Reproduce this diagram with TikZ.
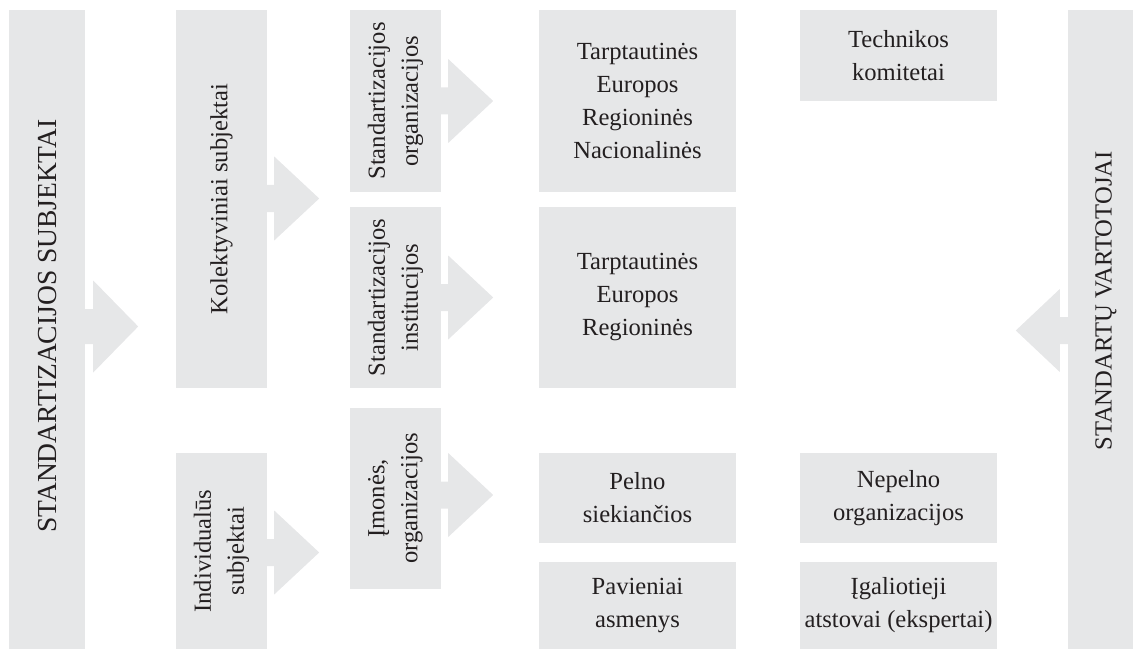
\documentclass[tikz,border=0pt]{standalone}
\usepackage{fontspec}
\setmainfont{Liberation Serif}
\definecolor{boxgray}{HTML}{E6E7E8}
\definecolor{ink}{HTML}{231F20}
\tikzset{
  box/.style={fill=boxgray, inner sep=0pt, align=center, text=ink,
    font=\fontsize{24.6}{33}\selectfont},
  vbox/.style={box, rotate=90},
  blockarrow/.style={fill=boxgray},
  vtext/.style={inner sep=0pt, text=ink, rotate=90, font=\fontsize{24.6}{33}\selectfont},
}
\begin{document}
\begin{tikzpicture}[x=1pt, y=-1pt]
\useasboundingbox (0,0) rectangle (1133,650);
% big side boxes
\node[vbox, minimum width=639pt, minimum height=76pt] (L) at (47,329.5) {};
\node[vtext, font=\fontsize{27.5}{33}\selectfont] (Ltext) at (48,326) {STANDARTIZACIJOS SUBJEKTAI};
\node[vbox, minimum width=639pt, minimum height=76pt] (R) at (1106,329.5) {};
\node[vtext] (Rtext) at (1106,301) {STANDARTŲ VARTOTOJAI};
% column 1
\node[vbox, minimum width=378pt, minimum height=91pt] (kol) at (221.5,199) {Kolektyviniai subjektai};
\node[vbox, minimum width=196pt, minimum height=91pt] (ind) at (221.5,551) {Individualūs\\subjektai};
% column 2
\node[vbox, minimum width=182pt, minimum height=91pt] (so) at (395.5,101) {Standartizacijos\\organizacijos};
\node[vbox, minimum width=181pt, minimum height=91pt] (si) at (395.5,297.5) {Standartizacijos\\institucijos};
\node[vbox, minimum width=181pt, minimum height=91pt] (im) at (395.5,498.5) {Įmonės,\\organizacijos};
% column 3
\node[box, minimum width=197pt, minimum height=182pt] (A) at (637.5,101) {Tarptautinės\\Europos\\Regioninės\\Nacionalinės};
\node[box, minimum width=197pt, minimum height=181pt] (B) at (637.5,297.5) {Tarptautinės\\Europos\\Regioninės};
\node[box, minimum width=197pt, minimum height=90pt] (C) at (637.5,498) {Pelno\\siekiančios};
\node[box, minimum width=197pt, minimum height=87pt] (D) at (637.5,605.5) {Pavieniai\\asmenys};
% column 4
\node[box, minimum width=197pt, minimum height=91pt] (T) at (898.5,55.5) {Technikos\\komitetai};
\node[box, minimum width=197pt, minimum height=90pt] (N) at (898.5,498) {Nepelno\\organizacijos};
\node[box, minimum width=197pt, minimum height=87pt] (G) at (898.5,605.5) {Įgaliotieji\\atstovai (ekspertai)};
% arrows (L.south / kol.south etc. are the right edges of the rotated boxes)
\fill[blockarrow] ([yshift=3pt]L.south) ++(0,-17.5) -- ++(8,0) -- ++(0,-28.5) -- ++(45,46) -- ++(-45,46) -- ++(0,-28.5) -- ++(-8,0) -- cycle;
\fill[blockarrow] ([yshift=0.5pt]kol.south) ++(0,-13.5) -- ++(7,0) -- ++(0,-28.5) -- ++(45,42) -- ++(-45,42) -- ++(0,-28.5) -- ++(-7,0) -- cycle;
\fill[blockarrow] ([yshift=-1.5pt]ind.south) ++(0,-13.5) -- ++(7,0) -- ++(0,-28.5) -- ++(45,42) -- ++(-45,42) -- ++(0,-28.5) -- ++(-7,0) -- cycle;
\fill[blockarrow] (so.south) ++(0,-13.5) -- ++(7,0) -- ++(0,-28.5) -- ++(45,42) -- ++(-45,42) -- ++(0,-28.5) -- ++(-7,0) -- cycle;
\fill[blockarrow] (si.south) ++(0,-13.5) -- ++(7,0) -- ++(0,-28.5) -- ++(45,42) -- ++(-45,42) -- ++(0,-28.5) -- ++(-7,0) -- cycle;
\fill[blockarrow] ([yshift=3.5pt]im.south) ++(0,-13.5) -- ++(7,0) -- ++(0,-28.5) -- ++(45,42) -- ++(-45,42) -- ++(0,-28.5) -- ++(-7,0) -- cycle;
\fill[blockarrow] ([yshift=-1pt]R.north) ++(0,-13.5) -- ++(-8,0) -- ++(0,-28) -- ++(-44,41.5) -- ++(44,41.5) -- ++(0,-28) -- ++(8,0) -- cycle;
\end{tikzpicture}
\end{document}
